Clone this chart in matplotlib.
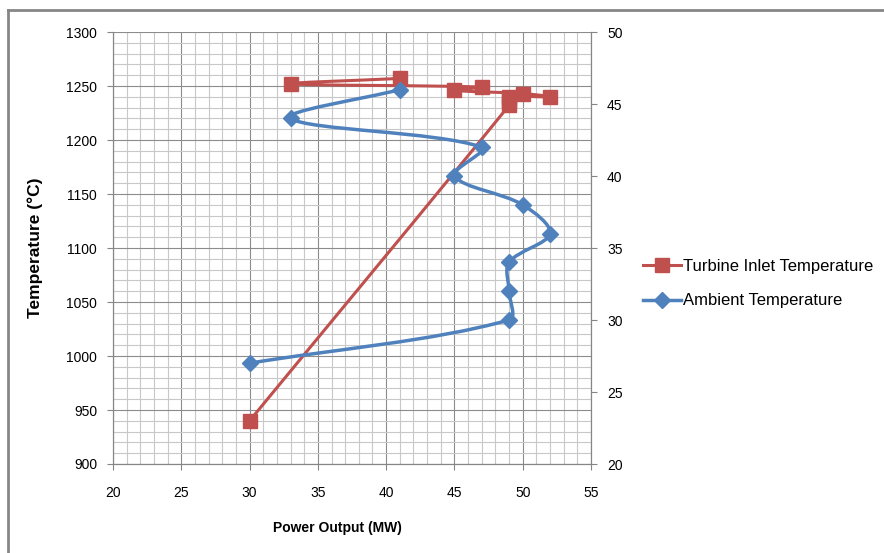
import numpy as np
import matplotlib
matplotlib.use('Agg')
import matplotlib.pyplot as plt
from matplotlib.path import Path
from matplotlib.patches import PathPatch
from matplotlib.lines import Line2D
from matplotlib.ticker import MultipleLocator

plt.rcParams['font.family'] = ['Liberation Sans', 'DejaVu Sans']

# data
power = [30, 49, 49, 49, 52, 50, 45, 47, 33, 41]
tit = [940, 1232, 1236, 1240, 1240, 1243, 1246, 1249, 1252, 1257]
ambient = [27, 30, 32, 34, 36, 38, 40, 42, 44, 46]

red = '#c0504d'
blue = '#4f81bd'

# plot area in pixels
W, H = 478, 432


def smooth_path(xs, ys, sx, sy):
    # excel-like smoothed line, tangents weighted by segment length (screen space)
    p = np.column_stack([xs, ys]).astype(float)
    sc = np.array([sx, sy])
    n = len(p)

    def d(a, b):
        return np.hypot(*((b - a) * sc))

    verts = [p[0]]
    codes = [Path.MOVETO]
    for i in range(n - 1):
        p0 = p[i - 1] if i > 0 else p[i]
        p1 = p[i]
        p2 = p[i + 1]
        p3 = p[i + 2] if i + 2 < n else p[i + 1]
        d01, d12, d23 = d(p0, p1), d(p1, p2), d(p2, p3)
        f1 = d12 / (d01 + d12) if d01 + d12 > 0 else 0
        f2 = d12 / (d12 + d23) if d12 + d23 > 0 else 0
        c1 = p1 + (p2 - p0) * f1 / 3
        c2 = p2 - (p3 - p1) * f2 / 3
        verts += [c1, c2, p2]
        codes += [Path.CURVE4] * 3
    return Path(verts, codes)


fig = plt.figure(figsize=(8.84, 5.53), dpi=100)
ax = fig.add_axes([113/884, 1 - 464/553, W/884, H/553])
ax2 = ax.twinx()

ax.set_xlim(20, 55)
ax.set_ylim(900, 1300)
ax2.set_ylim(20, 50)

ax.xaxis.set_major_locator(MultipleLocator(5))
ax.xaxis.set_minor_locator(MultipleLocator(1))
ax.yaxis.set_major_locator(MultipleLocator(50))
ax.yaxis.set_minor_locator(MultipleLocator(10))
ax2.yaxis.set_major_locator(MultipleLocator(5))

ax.grid(which='minor', color='#c8c8c8', lw=0.8)
ax.grid(which='major', color='#8c8c8c', lw=0.8)
ax.set_axisbelow(True)

ax.add_patch(PathPatch(smooth_path(power, tit, W/35, H/400), fill=False,
                       edgecolor=red, lw=2.2, zorder=3))
ax.plot(power, tit, ls='none', marker='s', ms=10, color=red, zorder=4)
ax2.add_patch(PathPatch(smooth_path(power, ambient, W/35, H/30), fill=False,
                        edgecolor=blue, lw=2.5, zorder=3))
ax2.plot(power, ambient, ls='none', marker='D', ms=8, color=blue, zorder=4)

for a in (ax, ax2):
    for s in a.spines.values():
        s.set_color('#868686')
    a.spines['top'].set_visible(False)
    a.tick_params(which='major', direction='out', length=4.5, color='#868686', labelsize=10, pad=7)
    a.tick_params(which='minor', length=0)
ax.tick_params(axis='x', pad=11)

ax.set_xlabel('Power Output (MW)', fontsize=10, fontweight='bold')
ax.set_ylabel('Temperature (°C)', fontsize=12.5, fontweight='bold')
ax.xaxis.set_label_coords(0.469, -0.132)
ax.yaxis.set_label_coords(-0.146, 0.5)

handles = [Line2D([], [], color=red, lw=2.2, marker='s', ms=10),
           Line2D([], [], color=blue, lw=2.5, marker='D', ms=8)]
fig.legend(handles, ['Turbine Inlet Temperature', 'Ambient Temperature'],
           loc='center left', bbox_to_anchor=(643/884, 1 - 283.5/553),
           frameon=False, fontsize=12, handlelength=2.3, handletextpad=0.12,
           labelspacing=1.2, borderaxespad=0, borderpad=0)

# chart area border (only left and top visible in the reference)
fig.add_artist(Line2D([8/884, 8/884], [0, 1 - 10/553], transform=fig.transFigure, color='#868686', lw=2))
fig.add_artist(Line2D([8/884, 1], [1 - 10/553, 1 - 10/553], transform=fig.transFigure, color='#868686', lw=2))

fig.savefig('out.png', dpi=100)
